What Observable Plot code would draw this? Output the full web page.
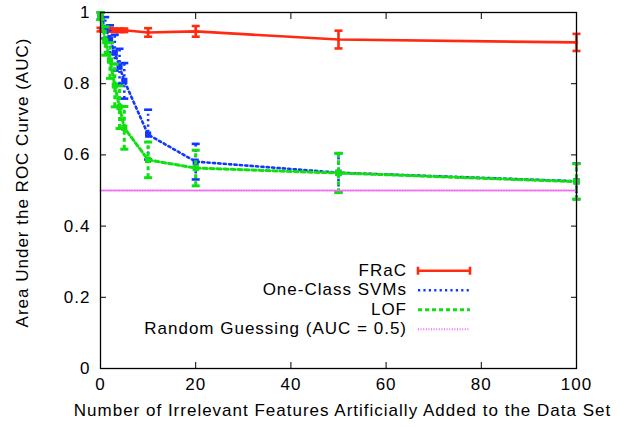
<!DOCTYPE html>
<html><head><meta charset="utf-8">
<script src="https://cdn.jsdelivr.net/npm/d3@7"></script>
<script src="https://cdn.jsdelivr.net/npm/@observablehq/plot@0.6"></script>
<style>
body{margin:0;background:#fff;font-family:"Liberation Sans",Arial,sans-serif}
#chart{position:relative;width:620px;height:427px}
#chart svg{position:absolute;left:0;top:0}
#chart svg text{letter-spacing:1px}
#legend{position:absolute;left:100px;top:261px;font-size:17px;letter-spacing:1px;color:#000}
.row{display:flex;align-items:center;justify-content:flex-end;height:19.5px;width:317px}
.row span{margin-right:10px;white-space:nowrap}
</style>
</head><body><div id="chart"></div>
<script>
const features = [0, 1, 2, 3, 4, 5, 10, 20, 50, 100];
const fracAUC = [0.952, 0.951, 0.951, 0.950, 0.950, 0.950, 0.944, 0.947, 0.924, 0.916];
const fracErr = [0.005, 0.005, 0.005, 0.005, 0.005, 0.005, 0.012, 0.015, 0.025, 0.024];
const svmAUC = [0.99, 0.957, 0.924, 0.887, 0.848, 0.808, 0.657, 0.581, 0.550, 0.526];
const svmErr = [0.01, 0.03, 0.04, 0.05, 0.05, 0.05, 0.07, 0.05, 0.055, 0.05];
const lofAUC = [0.99, 0.92, 0.865, 0.795, 0.734, 0.676, 0.586, 0.563, 0.549, 0.525];
const lofErr = [0.01, 0.04, 0.05, 0.06, 0.06, 0.06, 0.05, 0.05, 0.055, 0.05];
const randomAUC = 0.5;
const seriesNames = ["FRaC", "One-Class SVMs", "LOF", "Random Guessing (AUC = 0.5)"];
const xTicks = [0, 20, 40, 60, 80, 100];
const yTicks = [0, 0.2, 0.4, 0.6, 0.8, 1];
const xLabel = "Number of Irrelevant Features Artificially Added to the Data Set";
const yLabel = "Area Under the ROC Curve (AUC)";

const mk = (ys, es) => features.map((x, i) => ({x, y: ys[i], e: es[i]}));
const frac = mk(fracAUC, fracErr), svm = mk(svmAUC, svmErr), lof = mk(lofAUC, lofErr);
const randomLine = [{x: features[0], y: randomAUC}, {x: features[features.length - 1], y: randomAUC}];

const RED = "#ff2a10", BLUE = "#1238ff", GREEN = "#10e010", MAG = "#f070f0";
const BLUE_DASH = "2.2,3.2", GREEN_DASH = "4,3", MAG_DASH = "1,1.6";
const cap = {draw(ctx) { ctx.moveTo(-4, 0); ctx.lineTo(4, 0); }};

function series(data, color, dash, width, markerR) {
  return [
    Plot.line(data, {x: "x", y: "y", stroke: color, strokeWidth: width, strokeDasharray: dash}),
    Plot.ruleX(data, {x: "x", y1: d => d.y - d.e, y2: d => d.y + d.e, stroke: color, strokeWidth: width, strokeDasharray: dash}),
    Plot.dot(data, {x: "x", y: d => d.y - d.e, symbol: cap, stroke: color, strokeWidth: width, fill: "none"}),
    Plot.dot(data, {x: "x", y: d => d.y + d.e, symbol: cap, stroke: color, strokeWidth: width, fill: "none"}),
    Plot.dot(data, {x: "x", y: "y", symbol: "square", r: markerR, fill: color, stroke: "none"})
  ];
}

const plot = Plot.plot({
  width: 620, height: 427,
  marginLeft: 100, marginRight: 44, marginTop: 12, marginBottom: 59,
  style: {fontFamily: "'Liberation Sans', Arial, sans-serif", fontSize: "17px", color: "#000", background: "#fff"},
  x: {domain: [0, 100]},
  y: {domain: [0, 1]},
  marks: [
    Plot.axisX({anchor: "bottom", ticks: xTicks, tickSize: 0, tickPadding: 9, fontSize: 17, tickFormat: d => String(d), label: null}),
    Plot.axisX({anchor: "bottom", ticks: xTicks, tickSize: -6, tickFormat: () => "", label: null}),
    Plot.axisX({anchor: "top", ticks: xTicks, tickSize: -6, tickFormat: () => "", label: null}),
    Plot.axisY({anchor: "left", ticks: yTicks, tickSize: 0, tickPadding: 10, fontSize: 17, tickFormat: d => String(d), label: null}),
    Plot.axisY({anchor: "left", ticks: yTicks, tickSize: -6, tickFormat: () => "", label: null}),
    Plot.axisY({anchor: "right", ticks: yTicks, tickSize: -6, tickFormat: () => "", label: null}),
    Plot.text([xLabel], {frameAnchor: "bottom", textAnchor: "middle", dx: 4, dy: 47, fontSize: 17, fill: "#000"}),
    Plot.text([yLabel], {frameAnchor: "left", textAnchor: "middle", rotate: -90, dx: -78, dy: -8, fontSize: 17, fill: "#000"}),
    ...series(frac, RED, null, 2.6, 1.8),
    ...series(svm, BLUE, BLUE_DASH, 2.6, 3.5),
    ...series(lof, GREEN, GREEN_DASH, 3, 3.5),
    Plot.line(randomLine, {x: "x", y: "y", stroke: MAG, strokeWidth: 2, strokeDasharray: MAG_DASH}),
    Plot.frame({stroke: "#000", strokeWidth: 1.3})
  ]
});
const chart = document.getElementById("chart");
chart.appendChild(plot);

const legendStyles = [
  {color: RED, dash: null, w: 2.6, caps: true},
  {color: BLUE, dash: BLUE_DASH, w: 2.6},
  {color: GREEN, dash: GREEN_DASH, w: 3},
  {color: MAG, dash: MAG_DASH, w: 2}
];
const legend = document.createElement("div");
legend.id = "legend";
seriesNames.forEach(name => {
  const row = document.createElement("div");
  row.className = "row";
  const span = document.createElement("span");
  span.textContent = name;
  row.appendChild(span);
  legend.appendChild(row);
});
chart.appendChild(legend);
const ov = d3.select(chart).append("svg").attr("width", 620).attr("height", 427)
  .style("position", "absolute").style("left", 0).style("top", 0).style("pointer-events", "none");
legendStyles.forEach((s, i) => {
  const y = 261 + 19.5 * i + 9.75;
  ov.append("line").attr("x1", 418).attr("x2", 470).attr("y1", y).attr("y2", y)
    .attr("stroke", s.color).attr("stroke-width", s.w).attr("stroke-dasharray", s.dash);
  if (s.caps) {
    [418, 470].forEach(x => ov.append("line").attr("x1", x).attr("x2", x).attr("y1", y - 4).attr("y2", y + 4)
      .attr("stroke", s.color).attr("stroke-width", s.w));
  }
});
</script></body></html>
